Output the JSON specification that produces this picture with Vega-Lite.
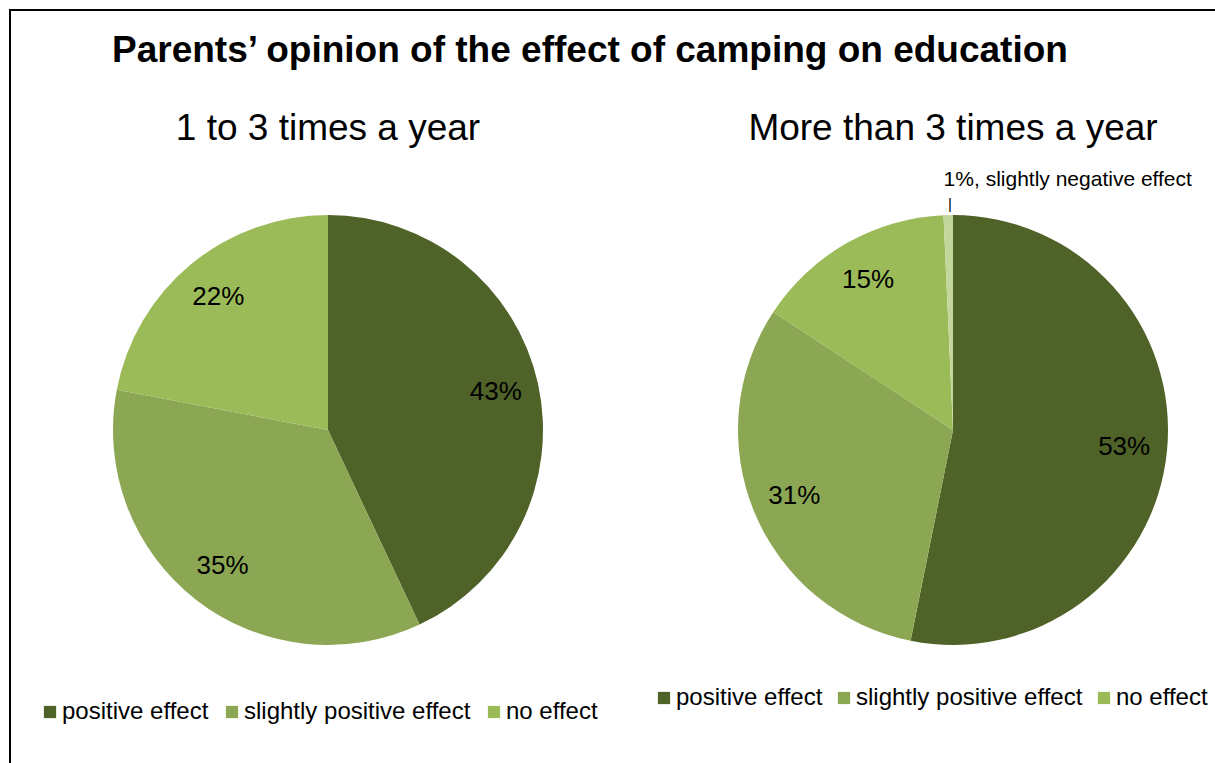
{
  "$schema": "https://vega.github.io/schema/vega-lite/v6.json",
  "width": 1208,
  "height": 756,
  "autosize": {"type": "none"},
  "padding": {"left": 10, "top": 10, "right": -3, "bottom": -3},
  "background": "white",
  "title": {
    "text": "Parents’ opinion of the effect of camping on education",
    "anchor": "start",
    "frame": "group",
    "dx": 102,
    "offset": -89,
    "baseline": "alphabetic",
    "font": "Liberation Sans",
    "fontSize": 37,
    "fontWeight": "bold",
    "color": "black"
  },
  "data": {
    "values": [
      {"group": "1 to 3 times a year", "category": "positive effect", "value": 0.43, "rank": 1},
      {"group": "1 to 3 times a year", "category": "slightly positive effect", "value": 0.35, "rank": 2},
      {"group": "1 to 3 times a year", "category": "no effect", "value": 0.22, "rank": 3},
      {"group": "More than 3 times a year", "category": "positive effect", "value": 0.53, "rank": 1},
      {"group": "More than 3 times a year", "category": "slightly positive effect", "value": 0.31, "rank": 2},
      {"group": "More than 3 times a year", "category": "no effect", "value": 0.15, "rank": 3},
      {"group": "More than 3 times a year", "category": "slightly negative effect", "value": 0.007, "rank": 4}
    ]
  },
  "encoding": {
    "x": {"field": "group", "type": "nominal", "axis": null,
          "scale": {"type": "point", "padding": 0, "domain": ["1 to 3 times a year", "More than 3 times a year"], "range": [318, 943]}},
    "y": {"field": "group", "type": "nominal", "axis": null,
          "scale": {"type": "point", "padding": 0, "domain": ["1 to 3 times a year", "More than 3 times a year"], "range": [420, 420]}}
  },
  "layer": [
    {
      "transform": [{"filter": "datum.group === '1 to 3 times a year'"}],
      "mark": {"type": "arc", "radius": 215},
      "encoding": {
        "theta": {"field": "value", "type": "quantitative", "stack": "normalize"},
        "order": {"field": "rank", "type": "quantitative"},
        "color": {
          "field": "category", "type": "nominal",
          "scale": {"domain": ["positive effect", "slightly positive effect", "no effect"],
                    "range": ["#4F6228", "#8CA753", "#9BBB59"]},
          "legend": {"orient": "none", "legendX": 28, "legendY": 690, "direction": "horizontal", "title": null, "columnPadding": 11}
        }
      }
    },
    {
      "transform": [{"filter": "datum.group === '1 to 3 times a year'"}],
      "mark": {"type": "text", "radius": 172, "fontSize": 26, "color": "black", "baseline": "middle", "align": "center"},
      "encoding": {
        "theta": {"field": "value", "type": "quantitative", "stack": "normalize"},
        "order": {"field": "rank", "type": "quantitative"},
        "detail": {"field": "category", "type": "nominal"},
        "text": {"field": "value", "type": "quantitative", "format": ".0%"}
      }
    },
    {
      "transform": [{"filter": "datum.group === 'More than 3 times a year'"}],
      "mark": {"type": "arc", "radius": 215},
      "encoding": {
        "theta": {"field": "value", "type": "quantitative", "stack": "normalize"},
        "order": {"field": "rank", "type": "quantitative"},
        "color": {
          "field": "category", "type": "nominal",
          "scale": {"domain": ["positive effect", "slightly positive effect", "no effect", "slightly negative effect"],
                    "range": ["#4F6228", "#8CA753", "#9BBB59", "#C3D69B"]},
          "legend": {"orient": "none", "legendX": 642, "legendY": 676, "direction": "horizontal", "title": null, "columnPadding": 9,
                     "values": ["positive effect", "slightly positive effect", "no effect"]}
        }
      }
    },
    {
      "transform": [{"filter": "datum.group === 'More than 3 times a year'"}],
      "mark": {"type": "text", "radius": 172, "fontSize": 26, "color": "black", "baseline": "middle", "align": "center"},
      "encoding": {
        "theta": {"field": "value", "type": "quantitative", "stack": "normalize"},
        "order": {"field": "rank", "type": "quantitative"},
        "detail": {"field": "category", "type": "nominal"},
        "text": {"field": "value", "type": "quantitative", "format": ".0%"},
        "opacity": {"condition": {"test": "datum.category === 'slightly negative effect'", "value": 0}, "value": 1}
      }
    },
    {
      "transform": [{"filter": "datum.group === 'More than 3 times a year'"}],
      "mark": {"type": "text", "radius": 244, "fontSize": 21, "color": "black", "baseline": "alphabetic", "align": "left", "dx": -4,
               "text": {"expr": "format(datum.value, '.0%') + ', ' + datum.category"}},
      "encoding": {
        "theta": {"field": "value", "type": "quantitative", "stack": "normalize"},
        "order": {"field": "rank", "type": "quantitative"},
        "detail": {"field": "category", "type": "nominal"},
        "opacity": {"condition": {"test": "datum.category === 'slightly negative effect'", "value": 1}, "value": 0}
      }
    },
    {
      "transform": [{"filter": "datum.group === 'More than 3 times a year'"}],
      "mark": {"type": "text", "radius": 226, "fontSize": 15, "fill": "black", "color": "black", "baseline": "middle", "align": "center", "dx": 2, "text": "|"},
      "encoding": {
        "theta": {"field": "value", "type": "quantitative", "stack": "normalize"},
        "order": {"field": "rank", "type": "quantitative"},
        "detail": {"field": "category", "type": "nominal"},
        "opacity": {"condition": {"test": "datum.category === 'slightly negative effect'", "value": 1}, "value": 0}
      }
    },
    {
      "transform": [{"aggregate": [{"op": "count", "as": "n"}], "groupby": ["group"]}],
      "mark": {"type": "text", "radius": 290, "theta": 0, "fontSize": 37, "color": "black", "baseline": "alphabetic", "align": "center"},
      "encoding": {
        "text": {"field": "group", "type": "nominal"}
      }
    }
  ],
  "resolve": {"scale": {"color": "independent"}, "legend": {"color": "independent"}},
  "config": {
    "font": "Liberation Sans",
    "view": {"stroke": "black", "strokeWidth": 2},
    "legend": {
      "symbolType": "square",
      "symbolSize": 150,
      "symbolStrokeWidth": 0,
      "labelFontSize": 24,
      "labelFont": "Liberation Sans",
      "labelColor": "black",
      "labelOffset": 0,
      "columnPadding": 11,
      "padding": 0,
      "labelLimit": 0
    }
  }
}
